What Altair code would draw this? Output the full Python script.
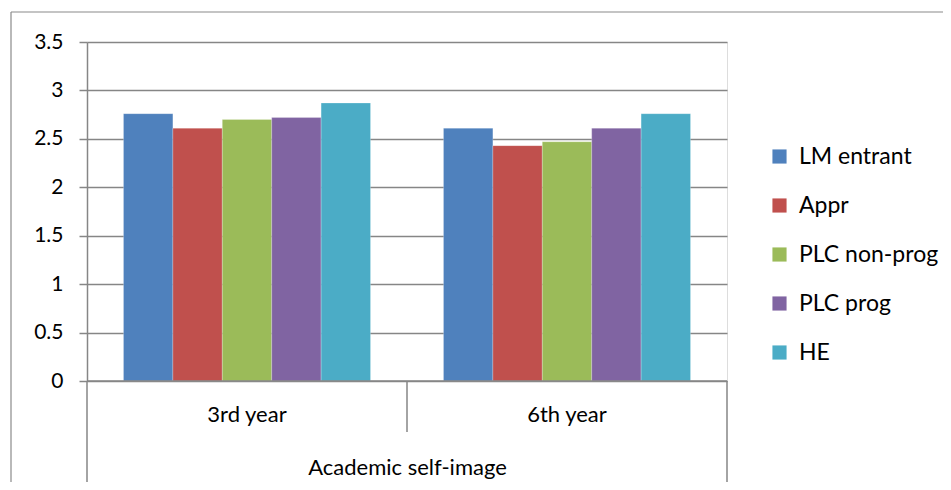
import altair as alt
import pandas as pd

years = ["3rd year", "6th year"]
series = ["LM entrant", "Appr", "PLC non-prog", "PLC prog", "HE"]
colors = ["#4F81BD", "#C0504D", "#9BBB59", "#8064A2", "#4BACC6"]
vals_3rd = [2.76, 2.61, 2.70, 2.72, 2.87]
vals_6th = [2.61, 2.43, 2.47, 2.61, 2.76]
y_ticks = [0, 0.5, 1, 1.5, 2, 2.5, 3, 3.5]

rows = []
for s, a, b in zip(series, vals_3rd, vals_6th):
    rows.append({"year": years[0], "series": s, "value": a})
    rows.append({"year": years[1], "series": s, "value": b})
df = pd.DataFrame(rows)

FONT = "Lato"
GRID = "#868686"
W, H = 640, 339

bars = alt.Chart(df).mark_bar(stroke="white", strokeWidth=0.4, strokeOpacity=0.6).encode(
    x=alt.X("year:N", sort=years,
            scale=alt.Scale(paddingInner=0.228, paddingOuter=0.114),
            axis=alt.Axis(title="Academic self-image", labelAngle=0, ticks=False,
                          domain=False, labelFontSize=22, labelPadding=23,
                          labelColor="#000", labelFont=FONT,
                          titleFont=FONT, titleFontSize=22, titleFontWeight="normal",
                          titleColor="#000", titlePadding=32)),
    xOffset=alt.XOffset("series:N", sort=series),
    y=alt.Y("value:Q", scale=alt.Scale(domain=[0, 3.5], nice=False),
            axis=alt.Axis(title=None, values=y_ticks, grid=True, gridColor=GRID,
                          format="~g",
                          gridWidth=1.5, domainColor=GRID, domainWidth=1.5,
                          tickColor=GRID, tickWidth=1.5, tickSize=8,
                          labelFontSize=21, labelPadding=16, labelColor="#000",
                          labelFont=FONT)),
    color=alt.Color("series:N", sort=series,
                    scale=alt.Scale(domain=series, range=colors),
                    legend=alt.Legend(title=None, orient="none", legendX=681, legendY=103,
                                      symbolType="square", symbolSize=200,
                                      symbolStrokeWidth=0, labelFontSize=23,
                                      labelFont=FONT, labelColor="#000",
                                      rowPadding=25, labelOffset=8)),
)

def rule(x, x2, y, y2, color=GRID, w=1.5):
    return alt.Chart(pd.DataFrame({"k": [0]})).mark_rule(color=color, strokeWidth=w).encode(
        x=alt.value(x), x2=alt.value(x2), y=alt.value(y), y2=alt.value(y2))

frame_color = "#8a8a8a"
decor = [
    rule(0, W, H, H),                 # x axis line
    rule(0, 0, H, 460),               # left separator below axis
    rule(320, 320, H, 390),           # middle separator
    rule(640, 640, H, 460),           # right separator
    rule(-76, 900, -30, -30, frame_color, 1.2),   # outer frame top
    rule(-76, -76, -30, 470, frame_color, 1.2),   # outer frame left
]

chart = alt.layer(bars, *decor).properties(
    width=W, height=H,
    autosize=alt.AutoSizeParams(type="none"),
    padding={"left": 79, "top": 34, "right": 216, "bottom": 101},
).configure_view(stroke=None).configure(background="white")

chart.save("out.html", embed_options={"renderer": "svg", "actions": False})
